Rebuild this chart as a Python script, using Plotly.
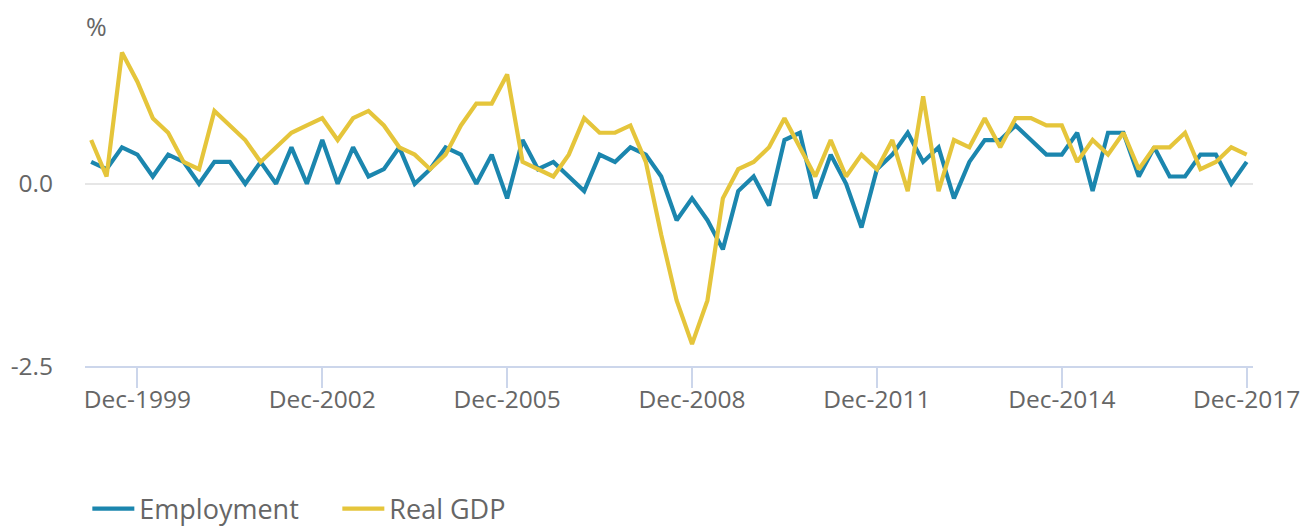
import plotly.graph_objects as go

# Quarterly categories, Mar-1999 .. Dec-2017
years = list(range(1999, 2018))
months = ["Mar", "Jun", "Sep", "Dec"]
quarters = [f"{m}-{y}" for y in years for m in months]

employment = [
    0.3, 0.2, 0.5, 0.4, 0.1, 0.4, 0.3, 0.0, 0.3, 0.3, 0.0, 0.3,
    0.0, 0.5, 0.0, 0.6, 0.0, 0.5, 0.1, 0.2, 0.5, 0.0, 0.2, 0.5,
    0.4, 0.0, 0.4, -0.2, 0.6, 0.2, 0.3, 0.1, -0.1, 0.4, 0.3, 0.5,
    0.4, 0.1, -0.5, -0.2, -0.5, -0.9, -0.1, 0.1, -0.3, 0.6, 0.7, -0.2,
    0.4, 0.0, -0.6, 0.2, 0.4, 0.7, 0.3, 0.5, -0.2, 0.3, 0.6, 0.6,
    0.8, 0.6, 0.4, 0.4, 0.7, -0.1, 0.7, 0.7, 0.1, 0.5, 0.1, 0.1,
    0.4, 0.4, 0.0, 0.3,
]

real_gdp = [
    0.6, 0.1, 1.8, 1.4, 0.9, 0.7, 0.3, 0.2, 1.0, 0.8, 0.6, 0.3,
    0.5, 0.7, 0.8, 0.9, 0.6, 0.9, 1.0, 0.8, 0.5, 0.4, 0.2, 0.4,
    0.8, 1.1, 1.1, 1.5, 0.3, 0.2, 0.1, 0.4, 0.9, 0.7, 0.7, 0.8,
    0.3, -0.7, -1.6, -2.2, -1.6, -0.2, 0.2, 0.3, 0.5, 0.9, 0.5, 0.1,
    0.6, 0.1, 0.4, 0.2, 0.6, -0.1, 1.2, -0.1, 0.6, 0.5, 0.9, 0.5,
    0.9, 0.9, 0.8, 0.8, 0.3, 0.6, 0.4, 0.7, 0.2, 0.5, 0.5, 0.7,
    0.2, 0.3, 0.5, 0.4,
]

x_ticks = ["Dec-1999", "Dec-2002", "Dec-2005", "Dec-2008", "Dec-2011", "Dec-2014", "Dec-2017"]
y_ticks = [-2.5, 0.0]
y_ticktext = ["-2.5", "0.0"]

BLUE = "#1b86ae"
YELLOW = "#e5c53b"
FONT = "Open Sans"
GREY = "#666666"

fig = go.Figure()
fig.add_trace(go.Scatter(x=quarters, y=employment, name="Employment", mode="lines",
                         line=dict(color=BLUE, width=4.2)))
fig.add_trace(go.Scatter(x=quarters, y=real_gdp, name="Real GDP", mode="lines",
                         line=dict(color=YELLOW, width=4.2)))

# the page body has an 8px margin, so the figure is sized/offset to compensate
fig.update_layout(
    width=1301, height=518,
    margin=dict(l=77, r=56, t=30, b=160, autoexpand=False),
    paper_bgcolor="white", plot_bgcolor="white",
    font=dict(family=FONT, color=GREY, size=24),
    showlegend=True,
    legend=dict(orientation="h", x=0.002, xanchor="left", y=-0.436, yanchor="middle",
                font=dict(size=27, color=GREY, family=FONT), entrywidth=193,
                itemwidth=42, bgcolor="rgba(0,0,0,0)"),
    xaxis=dict(type="category", range=[-0.4, 75.41], automargin=False,
               tickmode="array", tickvals=x_ticks, ticktext=x_ticks,
               ticks="outside", ticklen=20, tickwidth=2, tickcolor="#ccd6eb",
               showline=True, linecolor="#ccd6eb", linewidth=2,
               showgrid=False, zeroline=False, ticklabelstandoff=-9,
               tickfont=dict(size=24.5, color=GREY, family=FONT)),
    yaxis=dict(range=[-2.5, 2.0], tickmode="array", tickvals=y_ticks, ticktext=y_ticktext,
               automargin=False,
               showgrid=True, gridcolor="#e6e6e6", gridwidth=2,
               zeroline=False, showline=False, ticks="",
               ticklabelstandoff=31,
               tickfont=dict(size=24.5, color=GREY, family=FONT)),
    annotations=[dict(text="%", xref="paper", yref="paper", x=0.0, y=1.0915,
                      xanchor="left", yanchor="top", showarrow=False, borderpad=0,
                      font=dict(size=25, color=GREY, family=FONT))],
)

fig.write_html("out.html")
